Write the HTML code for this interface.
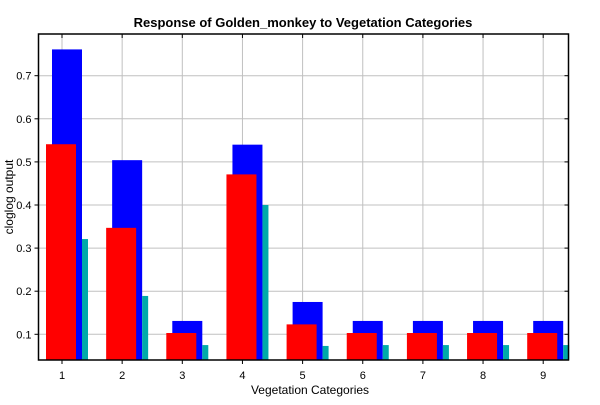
<!DOCTYPE html>
<html><head><meta charset="utf-8"><style>
body{margin:0;background:#fff}
svg{font-family:"Liberation Sans",sans-serif}
</style></head><body>
<svg id="c" width="600" height="400" xmlns="http://www.w3.org/2000/svg">
<rect width="600" height="400" fill="#fff"/>
<text x="303" y="27" text-anchor="middle" font-size="13" font-weight="bold">Response of Golden_monkey to Vegetation Categories</text>
<text x="310" y="394" text-anchor="middle" font-size="12">Vegetation Categories</text>
<text transform="translate(13,197) rotate(-90)" text-anchor="middle" font-size="12">cloglog output</text>
<g id="grid"></g><g id="bars"></g><g id="axes"></g>
</svg>
<script>
const categories=["1","2","3","4","5","6","7","8","9"];
const blueVals=[0.761,0.504,0.131,0.540,0.175,0.131,0.131,0.131,0.131];
const redVals=[0.541,0.347,0.103,0.471,0.123,0.103,0.103,0.103,0.103];
const cyanVals=[0.321,0.189,0.075,0.400,0.073,0.075,0.075,0.075,0.075];
const yTicks=[0.1,0.2,0.3,0.4,0.5,0.6,0.7];
const L=38.5,R=568.5,T=34,B=360;
const ns="http://www.w3.org/2000/svg";
function y(v){return 334.3-(v-0.1)*431;}
function x(i){return 62+i*60.15;}
function mk(tag,a,p){const e=document.createElementNS(ns,tag);for(const k in a)e.setAttribute(k,a[k]);p.appendChild(e);return e;}
const g=document.getElementById('grid'),b=document.getElementById('bars'),ax=document.getElementById('axes');
yTicks.forEach(t=>{
 const l=mk('line',{x1:L,x2:R,y1:y(t),y2:y(t),stroke:'#c0c0c0'},g);
 
 
 mk('line',{x1:L-4,x2:L,y1:y(t),y2:y(t),stroke:'#000'},ax);
 mk('line',{x1:R-4,x2:R,y1:y(t),y2:y(t),stroke:'#000'},ax);
 const tx=mk('text',{x:L-7,y:y(t)+4,'text-anchor':'end','font-size':'11'},ax);
 tx.textContent=t.toFixed(1);
 
 
});
categories.forEach((c,i)=>{
 const cx=x(i);
 const l=mk('line',{x1:cx,x2:cx,y1:T,y2:B,stroke:'#c0c0c0'},g);
 
 
 mk('line',{x1:cx,x2:cx,y1:B,y2:B+4,stroke:'#000'},ax);
 mk('line',{x1:cx,x2:cx,y1:T,y2:T+4,stroke:'#000'},ax);
 const tx=mk('text',{x:cx,y:B+19,'text-anchor':'middle','font-size':'11'},ax);
 tx.textContent=c;
 
 
 const bl=mk('rect',{x:cx-10,y:y(blueVals[i]),width:30,height:B-y(blueVals[i]),fill:'#0000ff'},b);
 
 
 const cy=mk('rect',{x:cx+20,y:y(cyanVals[i]),width:6,height:B-y(cyanVals[i]),fill:'#00aaaa'},b);
 
 
 const rd=mk('rect',{x:cx-16,y:y(redVals[i]),width:30,height:B-y(redVals[i]),fill:'#ff0000'},b);
 
 
});
const fr=mk('rect',{x:L,y:T,width:R-L,height:B-T,fill:'none',stroke:'#000','stroke-width':1.5},ax);


</script>
</body></html>
